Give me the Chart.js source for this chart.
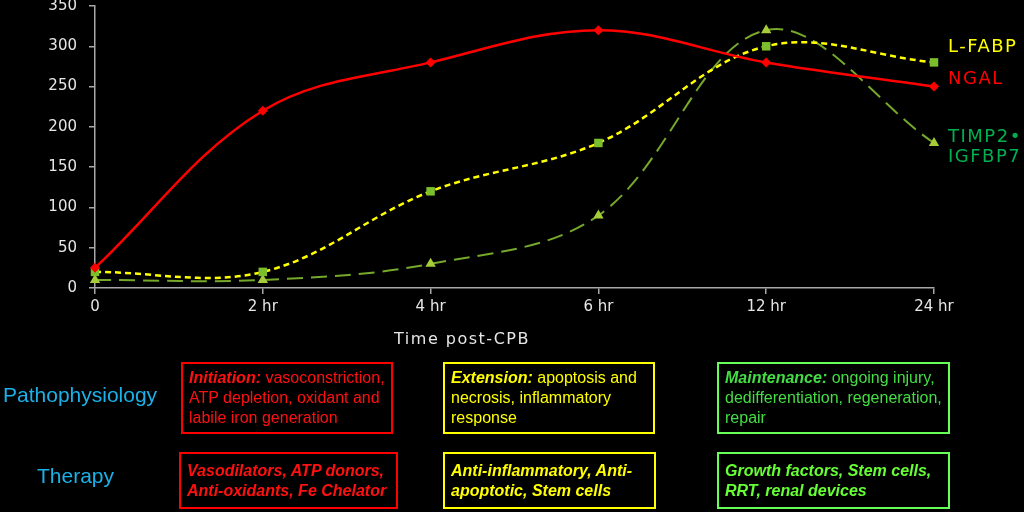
<!DOCTYPE html>
<html>
<head>
<meta charset="utf-8">
<script src="https://cdn.jsdelivr.net/npm/chart.js@4/dist/chart.umd.min.js"></script>
<style>
  body { margin: 0; background: #000; }
  #wrap { position: relative; width: 1024px; height: 512px; background: #000; overflow: hidden; }
  #chart { position: absolute; left: 0; top: 0; }
  .rowlabel { position: absolute; font-family: "Liberation Sans", Arial, sans-serif; font-size: 21px; color: #1ab2e8; white-space: nowrap; }
  .box { position: absolute; box-sizing: border-box; border: 2px solid; font-family: "Liberation Sans", Arial, sans-serif;
         font-size: 16px; line-height: 20px; padding: 4px 6px; white-space: nowrap; }
  .box.t2 { font-weight: bold; font-style: italic; padding-top: 7px; }
  .red { border-color: #ff0000; color: #ff1010; }
  .yellow { border-color: #ffff00; color: #ffff00; }
  .green { border-color: #66ff55; color: #44dd44; }
  .green.t2 { color: #66ff33; }
</style>
</head>
<body>
<div id="wrap">
  <canvas id="chart" width="1024" height="512"></canvas>

  <div class="rowlabel" style="left:3px; top:383px;">Pathophysiology</div>
  <div class="rowlabel" style="left:37px; top:464px;">Therapy</div>

  <div class="box red" style="left:181px; top:362px; width:212px; height:72px;"><b><i>Initiation:</i></b> vasoconstriction,<br>ATP depletion, oxidant and<br>labile iron generation</div>
  <div class="box yellow" style="left:443px; top:362px; width:212px; height:72px;"><b><i>Extension:</i></b> apoptosis and<br>necrosis, inflammatory<br>response</div>
  <div class="box green" style="left:717px; top:362px; width:233px; height:72px;"><b><i>Maintenance:</i></b> ongoing injury,<br>dedifferentiation, regeneration,<br>repair</div>

  <div class="box red t2" style="left:179px; top:452px; width:219px; height:57px;">Vasodilators, ATP donors,<br>Anti-oxidants, Fe Chelator</div>
  <div class="box yellow t2" style="left:443px; top:452px; width:213px; height:57px;">Anti-inflammatory, Anti-<br>apoptotic, Stem cells</div>
  <div class="box green t2" style="left:717px; top:452px; width:233px; height:57px;">Growth factors, Stem cells,<br>RRT, renal devices</div>
</div>

<script>
// Data
const timeLabels = ['0', '2 hr', '4 hr', '6 hr', '12 hr', '24 hr'];
const ngal = [25, 220, 280, 320, 280, 250];
const lfabp = [20, 20, 120, 180, 300, 280];
const timp = [10, 10, 30, 90, 320, 180];
const yTicks = [0, 50, 100, 150, 200, 250, 300, 350];

const axisColor = '#a8a8a8';
const tickFont = { family: '"DejaVu Sans", Verdana, sans-serif', size: 15 };

// series names drawn at the right of the last points, plus the x axis title
const sideLabels = {
    id: 'sideLabels',
    afterDraw(chart) {
        const ctx = chart.ctx;
        const y = chart.scales.y;
        ctx.save();
        ctx.font = '18px "DejaVu Sans", Verdana, sans-serif';
        ctx.letterSpacing = '1.5px';
        ctx.textBaseline = 'middle';
        ctx.textAlign = 'left';
        ctx.fillStyle = '#ffff00';
        ctx.fillText('L-FABP', 948, y.getPixelForValue(lfabp[5]) - 15);
        ctx.fillStyle = '#ff0000';
        ctx.fillText('NGAL', 948, y.getPixelForValue(ngal[5]) - 7);
        ctx.fillStyle = '#00b050';
        ctx.fillText('TIMP2\u2022', 948, y.getPixelForValue(timp[5]) - 6);
        ctx.fillText('IGFBP7', 948, y.getPixelForValue(timp[5]) + 14);

        ctx.font = '16px "DejaVu Sans", Verdana, sans-serif';
        ctx.fillStyle = '#e6e6e6';
        ctx.textAlign = 'center';
        ctx.fillText('Time post-CPB', 462, 340);
        ctx.restore();
    }
};

new Chart(document.getElementById('chart'), {
    type: 'line',
    data: {
        labels: timeLabels,
        datasets: [
            {
                label: 'NGAL',
                data: ngal,
                borderColor: '#ff0000',
                backgroundColor: '#ff0000',
                borderWidth: 2.5,
                pointStyle: 'rectRot',
                pointRadius: 5,
                pointBorderWidth: 0,
                tension: 0.36
            },
            {
                label: 'L-FABP',
                data: lfabp,
                borderColor: '#ffff00',
                backgroundColor: '#7cbf2c',
                borderWidth: 2.5,
                borderDash: [6, 4],
                pointStyle: 'rect',
                pointRadius: 6,
                pointBorderWidth: 0,
                tension: 0.36
            },
            {
                label: 'TIMP2\u2022IGFBP7',
                data: timp,
                borderColor: '#76a82a',
                backgroundColor: '#a6cc3a',
                borderWidth: 2,
                borderDash: [16, 8],
                pointStyle: 'triangle',
                pointRadius: 6,
                pointBorderWidth: 0,
                tension: 0.36
            }
        ]
    },
    options: {
        responsive: false,
        animation: false,
        layout: { padding: { left: 0, top: 6, right: 90, bottom: 0 } },
        plugins: {
            legend: { display: false },
            tooltip: { enabled: false }
        },
        scales: {
            x: {
                offset: false,
                grid: { drawOnChartArea: false, drawTicks: true, tickLength: 6, color: axisColor, lineWidth: 1.5 },
                border: { color: axisColor, width: 1.5 },
                ticks: { color: '#e6e6e6', font: tickFont, padding: 4, maxRotation: 0 },
                afterFit(scale) {
                    scale.height = 224;
                    scale.paddingLeft = 0;
                    scale.paddingRight = 0;
                }
            },
            y: {
                min: 0,
                max: 350,
                afterBuildTicks(scale) { scale.ticks = yTicks.map(v => ({ value: v })); },
                grid: { drawOnChartArea: false, drawTicks: true, tickLength: 6, color: axisColor, lineWidth: 1.5 },
                border: { color: axisColor, width: 1.5 },
                ticks: { color: '#e6e6e6', font: tickFont, padding: 12 },
                afterFit(scale) {
                    scale.width = 95;
                    scale.paddingTop = 0;
                    scale.paddingBottom = 0;
                }
            }
        }
    },
    plugins: [sideLabels]
});
</script>
</body>
</html>
